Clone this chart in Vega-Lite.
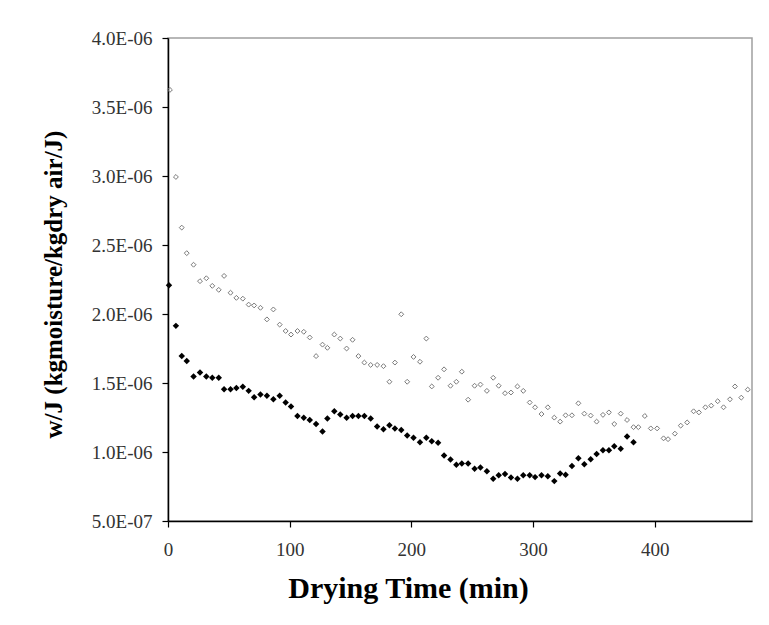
{
  "$schema": "https://vega.github.io/schema/vega-lite/v6.json",
  "width": 584,
  "height": 483,
  "autosize": {"type": "none"},
  "padding": {"left": 168, "top": 38, "right": 17, "bottom": 104},
  "background": "white",
  "config": {
    "view": {"stroke": "#a0a0a0", "strokeWidth": 1.5},
    "font": "Liberation Serif"
  },
  "datasets": {
    "open": [
      {"t": 1.6, "w": 3.624e-6}, {"t": 6.5, "w": 2.993e-6}, {"t": 11.3, "w": 2.626e-6}, {"t": 15.4, "w": 2.441e-6},
      {"t": 21, "w": 2.357e-6}, {"t": 26.3, "w": 2.238e-6}, {"t": 31.5, "w": 2.259e-6}, {"t": 36.4, "w": 2.204e-6},
      {"t": 41.7, "w": 2.175e-6}, {"t": 46.1, "w": 2.276e-6}, {"t": 51.4, "w": 2.154e-6}, {"t": 56.2, "w": 2.117e-6},
      {"t": 61.5, "w": 2.111e-6}, {"t": 66.3, "w": 2.068e-6}, {"t": 70.8, "w": 2.062e-6}, {"t": 76, "w": 2.045e-6},
      {"t": 81.3, "w": 1.961e-6}, {"t": 86.6, "w": 2.033e-6}, {"t": 91.8, "w": 1.923e-6}, {"t": 96.7, "w": 1.877e-6},
      {"t": 101.1, "w": 1.851e-6}, {"t": 106.4, "w": 1.877e-6}, {"t": 111.6, "w": 1.871e-6}, {"t": 116.5, "w": 1.830e-6},
      {"t": 121.7, "w": 1.695e-6}, {"t": 127, "w": 1.778e-6}, {"t": 131, "w": 1.755e-6}, {"t": 136.7, "w": 1.851e-6},
      {"t": 141.6, "w": 1.822e-6}, {"t": 146.8, "w": 1.750e-6}, {"t": 151.7, "w": 1.813e-6}, {"t": 156.5, "w": 1.695e-6},
      {"t": 161.4, "w": 1.648e-6}, {"t": 166.6, "w": 1.631e-6}, {"t": 171.9, "w": 1.631e-6}, {"t": 177.1, "w": 1.622e-6},
      {"t": 182, "w": 1.509e-6}, {"t": 186.5, "w": 1.648e-6}, {"t": 191.7, "w": 1.998e-6}, {"t": 196.6, "w": 1.509e-6},
      {"t": 201.8, "w": 1.689e-6}, {"t": 207.1, "w": 1.654e-6}, {"t": 212.3, "w": 1.822e-6}, {"t": 216.8, "w": 1.475e-6},
      {"t": 222, "w": 1.538e-6}, {"t": 226.9, "w": 1.599e-6}, {"t": 232.2, "w": 1.480e-6}, {"t": 237, "w": 1.509e-6},
      {"t": 241.5, "w": 1.582e-6}, {"t": 246.7, "w": 1.379e-6}, {"t": 252, "w": 1.480e-6}, {"t": 256.8, "w": 1.489e-6},
      {"t": 262.1, "w": 1.443e-6}, {"t": 267.3, "w": 1.538e-6}, {"t": 271.8, "w": 1.480e-6}, {"t": 277, "w": 1.426e-6},
      {"t": 281.9, "w": 1.431e-6}, {"t": 287.2, "w": 1.475e-6}, {"t": 292, "w": 1.443e-6}, {"t": 297.3, "w": 1.359e-6},
      {"t": 301.7, "w": 1.324e-6}, {"t": 307, "w": 1.275e-6}, {"t": 312.2, "w": 1.324e-6}, {"t": 317.5, "w": 1.249e-6},
      {"t": 322.3, "w": 1.220e-6}, {"t": 326.8, "w": 1.266e-6}, {"t": 332, "w": 1.266e-6}, {"t": 337.3, "w": 1.353e-6},
      {"t": 342.2, "w": 1.278e-6}, {"t": 347.4, "w": 1.264e-6}, {"t": 352.3, "w": 1.220e-6}, {"t": 357.5, "w": 1.269e-6},
      {"t": 362.4, "w": 1.287e-6}, {"t": 366.8, "w": 1.203e-6}, {"t": 372.1, "w": 1.278e-6}, {"t": 377.3, "w": 1.232e-6},
      {"t": 382.6, "w": 1.180e-6}, {"t": 386.6, "w": 1.180e-6}, {"t": 391.9, "w": 1.261e-6}, {"t": 396.8, "w": 1.171e-6},
      {"t": 402, "w": 1.171e-6}, {"t": 407.3, "w": 1.099e-6}, {"t": 411, "w": 1.093e-6}, {"t": 416.6, "w": 1.133e-6},
      {"t": 421.4, "w": 1.191e-6}, {"t": 426.7, "w": 1.214e-6}, {"t": 432, "w": 1.295e-6}, {"t": 436.4, "w": 1.287e-6},
      {"t": 441.7, "w": 1.324e-6}, {"t": 446.5, "w": 1.336e-6}, {"t": 451.8, "w": 1.368e-6}, {"t": 456.6, "w": 1.324e-6},
      {"t": 461.9, "w": 1.382e-6}, {"t": 466, "w": 1.475e-6}, {"t": 471.2, "w": 1.394e-6}, {"t": 476.5, "w": 1.452e-6}
    ],
    "filled": [
      {"t": 0.8, "w": 2.209e-6}, {"t": 6.5, "w": 1.914e-6}, {"t": 11.3, "w": 1.695e-6}, {"t": 15.4, "w": 1.660e-6},
      {"t": 21, "w": 1.547e-6}, {"t": 26.3, "w": 1.576e-6}, {"t": 31.5, "w": 1.547e-6}, {"t": 36.4, "w": 1.538e-6},
      {"t": 41.7, "w": 1.538e-6}, {"t": 46.1, "w": 1.454e-6}, {"t": 51.4, "w": 1.454e-6}, {"t": 56.2, "w": 1.463e-6},
      {"t": 61.5, "w": 1.472e-6}, {"t": 66.3, "w": 1.443e-6}, {"t": 70.8, "w": 1.397e-6}, {"t": 76, "w": 1.417e-6},
      {"t": 81.3, "w": 1.408e-6}, {"t": 86.6, "w": 1.382e-6}, {"t": 91.8, "w": 1.408e-6}, {"t": 96.7, "w": 1.359e-6},
      {"t": 101.1, "w": 1.330e-6}, {"t": 106.4, "w": 1.261e-6}, {"t": 111.6, "w": 1.249e-6}, {"t": 116.5, "w": 1.232e-6},
      {"t": 121.7, "w": 1.203e-6}, {"t": 127, "w": 1.148e-6}, {"t": 131, "w": 1.243e-6}, {"t": 136.7, "w": 1.295e-6},
      {"t": 141.6, "w": 1.272e-6}, {"t": 146.8, "w": 1.249e-6}, {"t": 151.7, "w": 1.261e-6}, {"t": 156.5, "w": 1.261e-6},
      {"t": 161.4, "w": 1.261e-6}, {"t": 166.6, "w": 1.243e-6}, {"t": 171.9, "w": 1.185e-6}, {"t": 177.1, "w": 1.165e-6},
      {"t": 182, "w": 1.194e-6}, {"t": 186.5, "w": 1.171e-6}, {"t": 191.7, "w": 1.159e-6}, {"t": 196.6, "w": 1.119e-6},
      {"t": 201.8, "w": 1.104e-6}, {"t": 207.1, "w": 1.070e-6}, {"t": 212.3, "w": 1.104e-6}, {"t": 216.8, "w": 1.078e-6},
      {"t": 222, "w": 1.067e-6}, {"t": 226.9, "w": 0.974e-6}, {"t": 232.2, "w": 0.945e-6}, {"t": 237, "w": 0.908e-6},
      {"t": 241.5, "w": 0.916e-6}, {"t": 246.7, "w": 0.916e-6}, {"t": 252, "w": 0.879e-6}, {"t": 256.8, "w": 0.887e-6},
      {"t": 262.1, "w": 0.861e-6}, {"t": 267.3, "w": 0.806e-6}, {"t": 271.8, "w": 0.832e-6}, {"t": 277, "w": 0.841e-6},
      {"t": 281.9, "w": 0.815e-6}, {"t": 287.2, "w": 0.806e-6}, {"t": 292, "w": 0.832e-6}, {"t": 297.3, "w": 0.832e-6},
      {"t": 301.7, "w": 0.818e-6}, {"t": 307, "w": 0.832e-6}, {"t": 312.2, "w": 0.824e-6}, {"t": 317.5, "w": 0.789e-6},
      {"t": 322.3, "w": 0.844e-6}, {"t": 326.8, "w": 0.835e-6}, {"t": 332, "w": 0.899e-6}, {"t": 337.3, "w": 0.954e-6},
      {"t": 342.2, "w": 0.911e-6}, {"t": 347.4, "w": 0.948e-6}, {"t": 352.3, "w": 0.986e-6}, {"t": 357.5, "w": 1.012e-6},
      {"t": 362.4, "w": 1.012e-6}, {"t": 366.8, "w": 1.041e-6}, {"t": 372.1, "w": 1.023e-6}, {"t": 377.3, "w": 1.113e-6},
      {"t": 382.6, "w": 1.070e-6}
    ]
  },
  "encoding": {
    "x": {
      "field": "t", "type": "quantitative",
      "scale": {"domain": [0, 480], "nice": false, "zero": false},
      "axis": {
        "values": [0, 100, 200, 300, 400],
        "grid": false,
        "labelFlush": false,
        "domainColor": "#000000", "domainWidth": 1.5,
        "tickColor": "#000000", "tickSize": 6, "tickWidth": 1.2,
        "labelFont": "Liberation Serif", "labelFontSize": 19, "labelColor": "#333333",
        "labelPadding": 13,
        "title": "Drying Time (min)",
        "titleFont": "Liberation Serif", "titleFontSize": 30, "titleFontWeight": "bold", "titleColor": "#000000",
        "titleX": 240, "titleY": 76, "titleBaseline": "alphabetic", "titleAlign": "center"
      }
    },
    "y": {
      "field": "w", "type": "quantitative",
      "scale": {"domain": [5e-7, 4e-6], "nice": false, "zero": false},
      "axis": {
        "values": [5e-7, 1e-6, 1.5e-6, 2e-6, 2.5e-6, 3e-6, 3.5e-6, 4e-6],
        "labelExpr": "upper(slice(format(datum.value, '.1e'), 0, 4)) + '-0' + slice(format(datum.value, '.1e'), 5)",
        "grid": false,
        "labelFlush": false,
        "domainColor": "#000000", "domainWidth": 1.5,
        "tickColor": "#000000", "tickSize": 6, "tickWidth": 1.2,
        "labelFont": "Liberation Serif", "labelFontSize": 19, "labelColor": "#333333",
        "labelPadding": 10,
        "title": "w/J (kgmoisture/kgdry air/J)",
        "titleFont": "Liberation Serif", "titleFontSize": 25, "titleFontWeight": "bold", "titleColor": "#000000",
        "titleAngle": 270, "titleX": -107, "titleY": 246, "titleBaseline": "alphabetic", "titleAlign": "center"
      }
    }
  },
  "layer": [
    {
      "data": {"name": "open"},
      "mark": {"type": "point", "shape": "diamond", "filled": false, "stroke": "#7a7a7a", "strokeWidth": 1, "size": 24, "opacity": 1}
    },
    {
      "data": {"name": "filled"},
      "mark": {"type": "point", "shape": "diamond", "filled": true, "color": "#000000", "size": 42, "opacity": 1}
    }
  ]
}
